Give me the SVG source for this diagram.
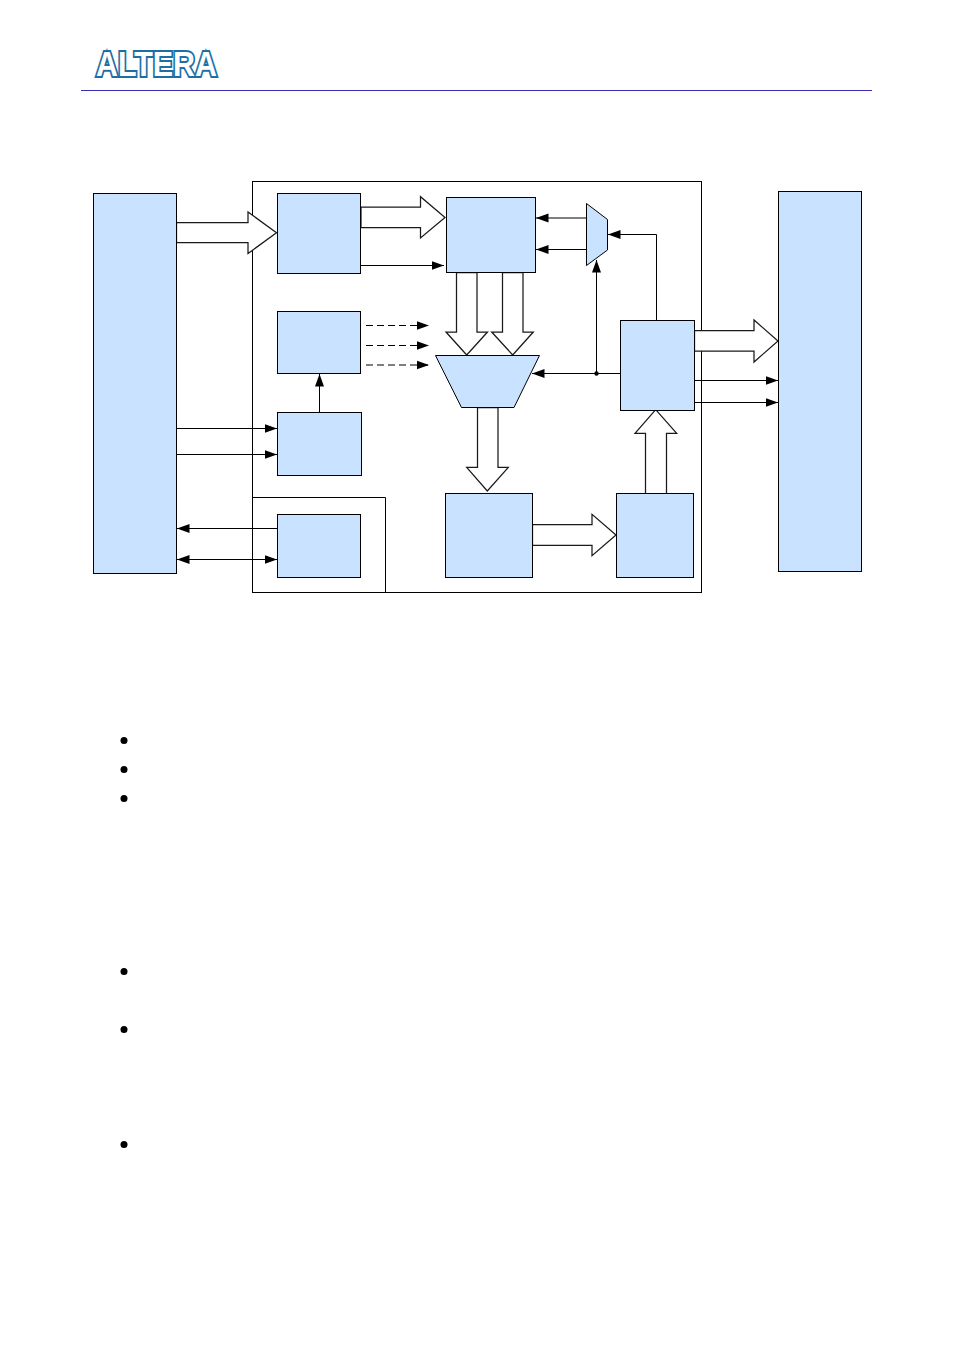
<svg xmlns="http://www.w3.org/2000/svg" width="954" height="1350" viewBox="0 0 954 1350">
<style>
.n{fill:#c8e2ff;stroke:#000;stroke-width:1}
.f{fill:none;stroke:#000;stroke-width:1}
.b{fill:#fff;stroke:#1a1a1a;stroke-width:1.25}
.c{fill:none;stroke:#000;stroke-width:1}
.d{stroke-dasharray:7 4;stroke-width:1.2}
.bu{fill:#000}
</style>
<defs>
<marker id="ah" markerUnits="userSpaceOnUse" markerWidth="13" markerHeight="10" refX="12.5" refY="5" orient="auto-start-reverse"><path d="M0 .5L12.5 5L0 9.5z" fill="#000"/></marker>
</defs>
<rect width="954" height="1350" fill="#fff"/>
<g id="header">
<text x="96" y="75.5" font-family="'Liberation Sans',Arial,sans-serif" font-weight="700" font-size="35" textLength="121" lengthAdjust="spacingAndGlyphs" fill="#fff" stroke="#1c6ea4" stroke-width="4" paint-order="stroke" stroke-linejoin="miter">ALTERA</text>
<path d="M81 90.5H872" stroke="#3a30b8" stroke-width="1"/>
</g>
<g id="frame-outer"><rect class="f" x="252.5" y="181.5" width="449" height="411"/></g>
<g id="frame-inner"><path class="f" d="M252.5 497.5H385.5V592.5"/></g>
<g id="connectors">
<path class="c" d="M360.5 265.5H444" marker-end="url(#ah)"/>
<path class="c d" d="M366 325.5H429" marker-end="url(#ah)"/>
<path class="c d" d="M366 345.5H429" marker-end="url(#ah)"/>
<path class="c d" d="M366 365H429" marker-end="url(#ah)"/>
<path class="c" d="M319.5 412V374" marker-end="url(#ah)"/>
<path class="c" d="M176.5 428.5H277" marker-end="url(#ah)"/>
<path class="c" d="M176.5 454.5H277" marker-end="url(#ah)"/>
<path class="c" d="M277 528.5H177" marker-end="url(#ah)"/>
<path class="c" d="M177 559.5H277" marker-start="url(#ah)" marker-end="url(#ah)"/>
<path class="c" d="M586.5 218H536" marker-end="url(#ah)"/>
<path class="c" d="M586.5 249.5H536" marker-end="url(#ah)"/>
<path class="c" d="M656.5 320.5V234.5H608" marker-end="url(#ah)"/>
<path class="c" d="M620.5 373.5H532" marker-end="url(#ah)"/>
<path class="c" d="M596.5 373.5V260" marker-end="url(#ah)"/>
<circle cx="596.5" cy="373.5" r="2.2" fill="#000"/>
<path class="c" d="M694.5 380.5H778" marker-end="url(#ah)"/>
<path class="c" d="M694.5 402.5H778" marker-end="url(#ah)"/>
<path class="b" d="M176.5 222.5H248V212L276.5 232.7L248 253.5V242.5H176.5z"/>
<path class="b" d="M361 207H420.5V196.7L445 217.5L420.5 238V227.7H361z"/>
<path class="b" d="M456.5 272.5V332H446L466.7 355L487.5 332H477V272.5z"/>
<path class="b" d="M502.5 272.5V332H491.7L512.7 355L533.3 332H523V272.5z"/>
<path class="b" d="M477.5 407.5V467.3H466.7L487.3 491L508.3 467.3H498V407.5z"/>
<path class="b" d="M532.5 524.7H592V514.3L616 535L592 555.7V545.3H532.5z"/>
<path class="b" d="M645.5 493.5V433.3H635L655.7 409.7L676.7 433.3H666.5V493.5z"/>
<path class="b" d="M694.5 330.5H754V320L778 341L754 362V351H694.5z"/>
</g>
<g id="left-block"><rect class="n" x="93.5" y="193.5" width="83" height="380"/></g>
<g id="right-block"><rect class="n" x="778.5" y="191.5" width="83" height="380"/></g>
<g id="n1"><rect class="n" x="277.5" y="193.5" width="83" height="80"/></g>
<g id="n2"><rect class="n" x="277.5" y="311.5" width="83" height="62"/></g>
<g id="n3"><rect class="n" x="277.5" y="412.5" width="84" height="63"/></g>
<g id="n4"><rect class="n" x="277.5" y="514.5" width="83" height="63"/></g>
<g id="n5"><rect class="n" x="446.5" y="197.5" width="89" height="75"/></g>
<g id="n6"><rect class="n" x="445.5" y="493.5" width="87" height="84"/></g>
<g id="n7"><rect class="n" x="616.5" y="493.5" width="77" height="84"/></g>
<g id="n8"><rect class="n" x="620.5" y="320.5" width="74" height="90"/></g>
<g id="mux-small"><path class="n" d="M586.5 203.5L607.5 219.5V250L586.5 265.5z"/></g>
<g id="mux-large"><path class="n" d="M435.5 355.5H539.5L514 407.5H461.5z"/></g>
<g id="bullets">
<circle class="bu" cx="124" cy="740.5" r="3.5"/>
<circle class="bu" cx="124" cy="769.5" r="3.5"/>
<circle class="bu" cx="124" cy="798.5" r="3.5"/>
<circle class="bu" cx="124" cy="971.5" r="3.5"/>
<circle class="bu" cx="124" cy="1029.5" r="3.5"/>
<circle class="bu" cx="124" cy="1144.5" r="3.5"/>
</g>
</svg>
